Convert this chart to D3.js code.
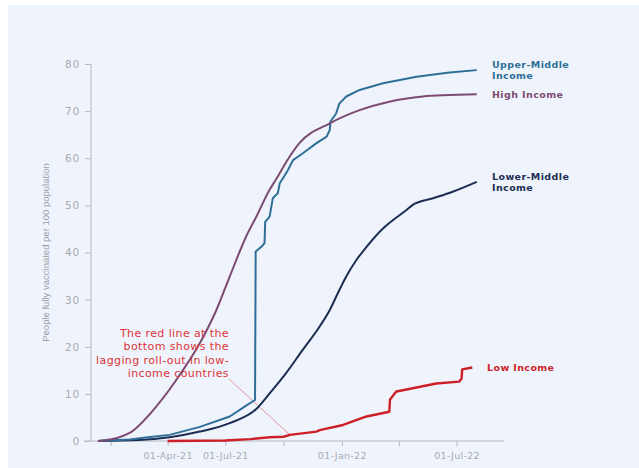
<!DOCTYPE html>
<html>
<head>
<meta charset="utf-8">
<script src="https://cdn.jsdelivr.net/npm/d3@7/dist/d3.min.js"></script>
<style>
  html, body { margin: 0; padding: 0; background: #ffffff; }
  svg { display: block; }
</style>
</head>
<body>
<svg id="chart" width="639" height="468"></svg>
<script>
// Vaccination progress by country income group: [date, people fully vaccinated per 100]
const highIncome = [
  ["2020-12-12", 0], ["2020-12-31", 0.3], ["2021-01-15", 0.8], ["2021-01-31", 1.7], ["2021-03-14", 7.3],
  ["2021-04-25", 15], ["2021-05-22", 20.8], ["2021-06-17", 27.8], ["2021-07-08", 34.9],
  ["2021-08-03", 43.4], ["2021-08-19", 47.6], ["2021-09-09", 53.3], ["2021-09-20", 55.7],
  ["2021-10-08", 59.8], ["2021-10-26", 63.2], ["2021-12-13", 67.4], ["2022-01-29", 70.2],
  ["2022-03-17", 72], ["2022-05-09", 73.1], ["2022-06-20", 73.4], ["2022-08-02", 73.6]
];
const upperMiddleIncome = [
  ["2020-12-12", 0], ["2021-01-31", 0.3], ["2021-03-01", 0.8], ["2021-04-04", 1.3],
  ["2021-05-22", 3.0], ["2021-07-08", 5.2], ["2021-08-03", 7.5], ["2021-08-17", 8.7],
  ["2021-08-18", 40.2], ["2021-08-27", 41.2], ["2021-09-01", 42], ["2021-09-02", 46.5],
  ["2021-09-09", 47.6], ["2021-09-14", 51.5], ["2021-09-22", 52.6], ["2021-09-25", 54.7],
  ["2021-10-03", 56.4], ["2021-10-08", 57.5], ["2021-10-16", 59.6], ["2021-10-31", 61],
  ["2021-11-22", 63.2], ["2021-12-08", 64.6], ["2021-12-13", 66], ["2021-12-14", 67.8],
  ["2021-12-23", 69.5], ["2021-12-28", 71.6], ["2022-01-08", 73.1], ["2022-01-29", 74.5],
  ["2022-03-07", 75.9], ["2022-04-29", 77.3], ["2022-06-20", 78.2], ["2022-08-02", 78.7]
];
const lowerMiddleIncome = [
  ["2020-12-12", 0], ["2021-02-15", 0.2], ["2021-04-04", 0.8], ["2021-05-22", 2],
  ["2021-07-08", 3.8], ["2021-08-19", 6.8], ["2021-09-09", 10.1], ["2021-10-05", 14.4],
  ["2021-10-31", 19.3], ["2021-11-27", 24.3], ["2021-12-13", 27.8], ["2021-12-23", 30.6],
  ["2022-01-08", 34.9], ["2022-01-24", 38.4], ["2022-02-09", 41.2], ["2022-03-07", 45.1],
  ["2022-03-23", 46.9], ["2022-04-13", 49], ["2022-04-23", 50.1], ["2022-05-25", 51.5],
  ["2022-06-25", 52.9], ["2022-08-02", 55]
];
const lowIncome = [
  ["2021-04-01", 0], ["2021-07-01", 0.1], ["2021-08-10", 0.4], ["2021-09-09", 0.8],
  ["2021-10-01", 0.9], ["2021-10-11", 1.3], ["2021-11-22", 2.0], ["2021-11-27", 2.3],
  ["2022-01-03", 3.4], ["2022-02-09", 5.2], ["2022-03-17", 6.2], ["2022-03-18", 8.8],
  ["2022-03-28", 10.5], ["2022-04-23", 11.2], ["2022-05-30", 12.2], ["2022-07-05", 12.6],
  ["2022-07-09", 13.2], ["2022-07-10", 15.2], ["2022-07-26", 15.6]
];

const yTicks = [0, 10, 20, 30, 40, 50, 60, 70, 80];
const xTickDates = ["2021-01-01", "2021-04-01", "2021-07-01", "2021-10-01", "2022-01-01", "2022-04-01", "2022-07-01"];
const xTickLabels = ["", "01-Apr-21", "01-Jul-21", "", "01-Jan-22", "", "01-Jul-22"];

const seriesNames = ["Upper-Middle Income", "High Income", "Lower-Middle Income", "Low Income"];
const seriesLabelLines = [["Upper-Middle", "Income"], ["High Income"], ["Lower-Middle", "Income"], ["Low Income"]];
const seriesData = [upperMiddleIncome, highIncome, lowerMiddleIncome, lowIncome];
const seriesColors = ["#2f6f97", "#7d4b71", "#1b2d52", "#cc1f27"];
// stepped series keep straight segments, smooth series use a monotone curve
const seriesSmooth = [false, true, true, false];

const noteLines = ["The red line at the", "bottom shows the", "lagging roll-out in low-", "income countries"];

const parse = d3.timeParse("%Y-%m-%d");
const svg = d3.select("#chart");

// panel background
svg.append("rect").attr("x", 8).attr("y", 5).attr("width", 631).attr("height", 463).attr("fill", "#eff4fc");

const x = d3.scaleTime().domain([parse("2020-11-20"), parse("2022-09-14")]).range([84, 504]);
const y = d3.scaleLinear().domain([0, 80]).range([441, 64]);
const axisColor = "#b4b8be";
const tickFont = "'DejaVu Sans', sans-serif";

// y axis
const yAxis = svg.append("g").attr("transform", "translate(91,0)")
  .call(d3.axisLeft(y).tickValues(yTicks).tickSize(6).tickPadding(5));
yAxis.select(".domain").attr("stroke", axisColor).attr("d", `M0,${y(0)}V${y(80)}`);
yAxis.selectAll(".tick line").attr("stroke", axisColor);
yAxis.selectAll(".tick text").attr("fill", "#a7abb1").style("font-family", tickFont)
  .style("font-size", "10.5px").style("letter-spacing", "0.8px");

// x axis
const xAxis = svg.append("g").attr("transform", `translate(0,${y(0)})`)
  .call(d3.axisBottom(x).tickValues(xTickDates.map(parse)).tickSize(5).tickPadding(6)
    .tickFormat((d, i) => xTickLabels[i]));
xAxis.select(".domain").attr("stroke", axisColor).attr("d", `M84,0H504`);
xAxis.selectAll(".tick line").attr("stroke", axisColor);
xAxis.selectAll(".tick text").attr("fill", "#a7abb1").style("font-family", tickFont)
  .style("font-size", "9.5px").style("letter-spacing", "0.3px");

// y axis title
svg.append("text")
  .attr("transform", `translate(49,${(y(0) + y(80)) / 2}) rotate(-90)`)
  .attr("text-anchor", "middle")
  .attr("fill", "#9a9ea4")
  .style("font-family", "'Liberation Sans', Arial, sans-serif")
  .style("font-size", "9.5px")
  .text("People fully vaccinated per 100 population");

// leader line from the note to the low-income series
const noteTarget = lowIncome.find(d => d[0] === "2021-10-11");
svg.append("line")
  .attr("x1", 229).attr("y1", 379)
  .attr("x2", x(parse(noteTarget[0]))).attr("y2", y(noteTarget[1]))
  .attr("stroke", "#e0898c").attr("stroke-width", 0.9);

// series lines
const smoothLine = d3.line().x(d => x(parse(d[0]))).y(d => y(d[1])).curve(d3.curveMonotoneX);
const stepLine = d3.line().x(d => x(parse(d[0]))).y(d => y(d[1])).curve(d3.curveLinear);
const order = [3, 2, 0, 1];
order.forEach(i => {
  svg.append("path")
    .datum(seriesData[i])
    .attr("fill", "none")
    .attr("stroke", seriesColors[i])
    .attr("stroke-width", i === 3 ? 2.4 : 2)
    .attr("stroke-linejoin", "round")
    .attr("d", seriesSmooth[i] ? smoothLine : stepLine)
    .append("title").text(seriesNames[i]);
});

// end-of-line series labels
const labelFont = "'DejaVu Sans', sans-serif";
seriesData.forEach((data, i) => {
  const last = data[data.length - 1];
  const lines = seriesLabelLines[i];
  const lx = i === 3 ? 487 : 492;
  const t = svg.append("text")
    .attr("x", lx)
    .attr("y", y(last[1]) - (lines.length - 1) * 5.5 + 3.5)
    .attr("fill", seriesColors[i])
    .style("font-family", labelFont)
    .style("font-weight", "bold")
    .style("font-size", "9.5px")
    .style("letter-spacing", "0.4px");
  lines.forEach((s, k) => {
    t.append("tspan").attr("x", lx).attr("dy", k === 0 ? 0 : 11).text(s);
  });
});

// annotation
const note = svg.append("text")
  .attr("text-anchor", "end")
  .attr("fill", "#dd3338")
  .style("font-family", "'DejaVu Sans', sans-serif")
  .style("font-size", "11px")
  .style("letter-spacing", "0.4px");
noteLines.forEach((s, k) => {
  note.append("tspan").attr("x", 229).attr("y", 337 + k * 13.4).text(s);
});
</script>
</body>
</html>
